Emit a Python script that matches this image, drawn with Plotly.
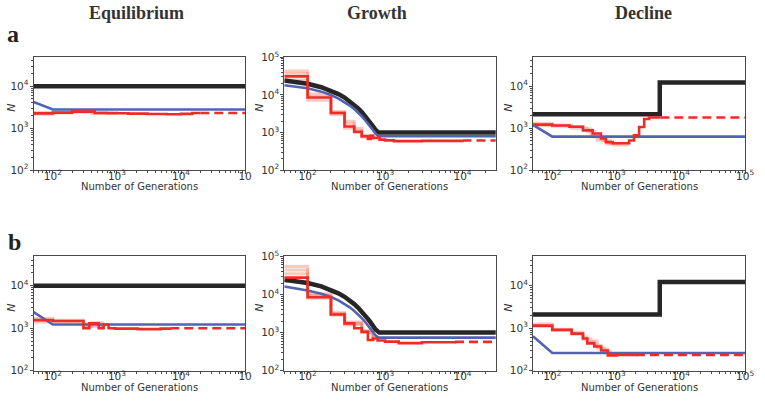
import plotly.graph_objects as go

W, H = 765, 405

# ---------------- data ----------------
col_titles = ["Equilibrium", "Growth", "Decline"]
row_labels = ["a", "b"]
x_title = "Number of Generations"
y_title = "N"

# Equilibrium, row a
eq_a_true_x = [50, 100000]
eq_a_true_y = [10000, 10000]
eq_a_blue_x = [50, 100, 100000]
eq_a_blue_y = [4200, 2800, 2800]
eq_a_red_x = [50, 100, 200, 450, 700, 1500, 3000, 6000, 10000, 15000, 20000]
eq_a_red_y = [2250, 2350, 2480, 2300, 2270, 2230, 2180, 2150, 2200, 2300, 2300]
eq_a_dash_x = [20000, 100000]
eq_a_dash_y = [2300, 2300]
eq_a_rep_x = [[50, 100, 200, 450, 1000], [50, 100, 200, 400, 1000]]
eq_a_rep_y = [[2350, 2450, 2600, 2350, 2300], [2150, 2300, 2400, 2250, 2250]]

# Equilibrium, row b
eq_b_true_x = [50, 100000]
eq_b_true_y = [10000, 10000]
eq_b_blue_x = [50, 100, 100000]
eq_b_blue_y = [2400, 1220, 1220]
eq_b_red_x = [50, 100, 300, 370, 520, 620, 740, 940, 2100, 4800, 6800]
eq_b_red_y = [1550, 1480, 1000, 1300, 1000, 1220, 1000, 980, 950, 980, 1000]
eq_b_dash_x = [6800, 100000]
eq_b_dash_y = [1000, 1000]
eq_b_rep_x = [[50, 100, 300, 400, 600], [50, 100, 250, 350, 600]]
eq_b_rep_y = [[1700, 1550, 1100, 1350, 1050], [1400, 1400, 1250, 1100, 1000]]

# Growth, row a
gr_a_true_x = [50, 100, 150, 200, 250, 300, 350, 400, 450, 500, 550, 600, 650, 700, 750, 820, 27000]
gr_a_true_y = [24000, 19800, 16000, 13000, 10500, 8500, 6800, 5500, 4400, 3500, 2800, 2250, 1800, 1450, 1200, 1000, 1000]
gr_a_blue_x = [50, 100, 150, 200, 250, 300, 350, 400, 450, 500, 550, 600, 650, 700, 750, 820, 27000]
gr_a_blue_y = [18000, 15000, 12200, 9900, 8000, 6500, 5200, 4200, 3400, 2700, 2150, 1750, 1400, 1150, 950, 800, 800]
gr_a_red_x = [50, 100, 200, 300, 400, 500, 600, 650, 700, 850, 1000, 1300, 3000, 10000]
gr_a_red_y = [31000, 8500, 3300, 1450, 1050, 800, 680, 820, 720, 650, 620, 590, 600, 615]
gr_a_dash_x = [10000, 27000]
gr_a_dash_y = [615, 615]
gr_a_rep_x = [[50, 100, 200, 300, 400, 500, 700], [50, 100, 200, 300, 400, 500, 700], [50, 100, 200, 300, 400, 500, 700]]
gr_a_rep_y = [[43000, 10500, 3400, 2000, 1300, 850, 700], [37000, 7200, 3000, 1700, 1150, 800, 680], [25000, 9000, 3600, 1300, 1000, 750, 650]]

# Growth, row b
gr_b_true_x = [50, 100, 150, 200, 250, 300, 350, 400, 450, 500, 550, 600, 650, 700, 750, 840, 27000]
gr_b_true_y = [24500, 20000, 16300, 13200, 10700, 8700, 7000, 5600, 4500, 3600, 2900, 2300, 1850, 1500, 1220, 1000, 1000]
gr_b_blue_x = [50, 100, 150, 200, 250, 300, 350, 400, 450, 500, 550, 600, 650, 700, 750, 820, 27000]
gr_b_blue_y = [16200, 12800, 10500, 8600, 7000, 5700, 4600, 3700, 3000, 2400, 1950, 1550, 1250, 1000, 850, 740, 740]
gr_b_red_x = [50, 100, 200, 300, 400, 500, 600, 700, 800, 1000, 1500, 3000, 8000]
gr_b_red_y = [27800, 8500, 3000, 1750, 1300, 1050, 640, 700, 620, 580, 530, 560, 570]
gr_b_dash_x = [8000, 27000]
gr_b_dash_y = [570, 570]
gr_b_rep_x = [[50, 100, 200, 300, 500, 700], [50, 100, 200, 300, 500, 700], [50, 100, 200, 300, 500, 700], [50, 100, 200, 300, 500, 700]]
gr_b_rep_y = [[54000, 10500, 3300, 1900, 1100, 700], [44000, 8000, 2900, 1600, 1000, 650], [35000, 9500, 3100, 1800, 1000, 680], [22000, 9000, 3200, 1700, 1100, 660]]

# Decline, row a
de_a_true_x = [50, 4700, 100000]
de_a_true_y = [2150, 12200, 12200]
de_a_blue_x = [50, 100, 100000]
de_a_blue_y = [1200, 630, 630]
de_a_red_x = [50, 100, 185, 300, 425, 570, 680, 870, 1570, 1870, 2240, 2690, 3200, 4800]
de_a_red_y = [1220, 1160, 1080, 890, 750, 570, 465, 440, 510, 680, 1070, 1660, 1800, 1800]
de_a_dash_x = [4800, 100000]
de_a_dash_y = [1800, 1800]
de_a_rep_x = [[50, 100, 200, 300, 400, 500, 700, 900, 1500], [50, 100, 200, 350, 450, 600, 800, 1200]]
de_a_rep_y = [[1300, 1200, 1100, 960, 700, 520, 420, 400, 480], [1150, 1120, 1000, 820, 620, 500, 440, 430]]

# Decline, row b
de_b_true_x = [50, 4700, 100000]
de_b_true_y = [2100, 12200, 12200]
de_b_blue_x = [50, 100, 100000]
de_b_blue_y = [650, 262, 262]
de_b_red_x = [50, 100, 200, 300, 350, 450, 575, 730, 1000, 2000]
de_b_red_y = [1150, 915, 745, 575, 440, 370, 300, 230, 235, 240]
de_b_dash_x = [2000, 100000]
de_b_dash_y = [235, 235]
de_b_rep_x = [[50, 100, 200, 300, 350, 450, 575, 730], [50, 100, 200, 300, 400, 500, 650, 800]]
de_b_rep_y = [[1250, 950, 800, 620, 480, 400, 320, 240], [1100, 900, 720, 560, 500, 340, 280, 225]]

panels = [
    (eq_a_true_x, eq_a_true_y, eq_a_blue_x, eq_a_blue_y, eq_a_red_x, eq_a_red_y, eq_a_dash_x, eq_a_dash_y, eq_a_rep_x, eq_a_rep_y),
    (gr_a_true_x, gr_a_true_y, gr_a_blue_x, gr_a_blue_y, gr_a_red_x, gr_a_red_y, gr_a_dash_x, gr_a_dash_y, gr_a_rep_x, gr_a_rep_y),
    (de_a_true_x, de_a_true_y, de_a_blue_x, de_a_blue_y, de_a_red_x, de_a_red_y, de_a_dash_x, de_a_dash_y, de_a_rep_x, de_a_rep_y),
    (eq_b_true_x, eq_b_true_y, eq_b_blue_x, eq_b_blue_y, eq_b_red_x, eq_b_red_y, eq_b_dash_x, eq_b_dash_y, eq_b_rep_x, eq_b_rep_y),
    (gr_b_true_x, gr_b_true_y, gr_b_blue_x, gr_b_blue_y, gr_b_red_x, gr_b_red_y, gr_b_dash_x, gr_b_dash_y, gr_b_rep_x, gr_b_rep_y),
    (de_b_true_x, de_b_true_y, de_b_blue_x, de_b_blue_y, de_b_red_x, de_b_red_y, de_b_dash_x, de_b_dash_y, de_b_rep_x, de_b_rep_y),
]
true_shapes = ["linear", "linear", "hv", "linear", "linear", "hv"]

x_tick_vals = [[100, 1000, 10000, 100000], [100, 1000, 10000], [100, 1000, 10000, 100000]]
x_tick_text = [["10<sup>2</sup>", "10<sup>3</sup>", "10<sup>4</sup>", "10"],
               ["10<sup>2</sup>", "10<sup>3</sup>", "10<sup>4</sup>"],
               ["10<sup>2</sup>", "10<sup>3</sup>", "10<sup>4</sup>", "10<sup>5</sup>"]]
y_tick_vals = [[100, 1000, 10000], [100, 1000, 10000, 100000], [100, 1000, 10000]]
y_tick_text = [["10<sup>2</sup>", "10<sup>3</sup>", "10<sup>4</sup>"],
               ["10<sup>2</sup>", "10<sup>3</sup>", "10<sup>4</sup>", "10<sup>5</sup>"],
               ["10<sup>2</sup>", "10<sup>3</sup>", "10<sup>4</sup>"]]

# ---------------- style / layout ----------------
C_TRUE = "#262626"
C_BLUE = "#5164B3"
C_RED = "#EE2B27"
C_REP = "rgba(244,120,100,0.40)"
AX = "#4a4a4a"

col_px = [(34, 248), (287.7, 501.7), (539.3, 754)]
row_px = [(51, 168), (257.3, 375.7)]
x_ranges = [[1.699, 5.0], [1.699, 4.43], [1.699, 5.0]]
y_ranges = [[2.0, 4.69], [2.0, 5.0], [2.0, 4.69]]

minor_vals = [m * 10 ** d for d in range(1, 6) for m in range(2, 10)]

fig = go.Figure()
layout = dict(width=W, height=H, margin=dict(l=0, r=0, t=0, b=0),
              paper_bgcolor="white", plot_bgcolor="white", showlegend=False)

for i, p in enumerate(panels):
    r, c = divmod(i, 3)
    ax = i + 1
    xa = "x" if ax == 1 else f"x{ax}"
    ya = "y" if ax == 1 else f"y{ax}"
    tx, ty, bx, by, rx, ry, dx, dy, repx, repy = p
    for qx, qy in zip(repx, repy):
        fig.add_trace(go.Scatter(x=qx, y=qy, mode="lines", line=dict(color=C_REP, width=3, shape="hv"),
                                 xaxis=xa, yaxis=ya, hoverinfo="skip"))
    fig.add_trace(go.Scatter(x=tx, y=ty, mode="lines", line=dict(color=C_TRUE, width=4.5, shape=true_shapes[i]),
                             xaxis=xa, yaxis=ya))
    fig.add_trace(go.Scatter(x=bx, y=by, mode="lines", line=dict(color=C_BLUE, width=2.6),
                             xaxis=xa, yaxis=ya))
    fig.add_trace(go.Scatter(x=rx, y=ry, mode="lines", line=dict(color=C_RED, width=2.6, shape="hv"),
                             xaxis=xa, yaxis=ya))
    fig.add_trace(go.Scatter(x=dx, y=dy, mode="lines", line=dict(color=C_RED, width=2.6, dash="9px,5px"),
                             xaxis=xa, yaxis=ya))

    x0, x1 = col_px[c]
    y0, y1 = row_px[r]
    common = dict(type="log", showline=True, mirror=True, linecolor=AX, linewidth=1,
                  ticks="outside", ticklen=3, tickwidth=1, tickcolor=AX, showgrid=False, zeroline=False,
                  tickfont=dict(family="DejaVu Sans", size=10.5, color="#333"),
                  minor=dict(tickmode="array", tickvals=minor_vals, ticks="outside", ticklen=2,
                             tickwidth=1, tickcolor=AX, showgrid=False))
    layout[f"xaxis{ax}"] = dict(common, domain=[x0 / W, x1 / W], range=x_ranges[c], anchor=ya,
                                tickmode="array", tickvals=x_tick_vals[c], ticktext=x_tick_text[c],
                                ticklabelstandoff=-7)
    layout[f"yaxis{ax}"] = dict(common, domain=[1 - y1 / H, 1 - y0 / H], range=y_ranges[c], anchor=xa,
                                tickmode="array", tickvals=y_tick_vals[c], ticktext=y_tick_text[c],
                                ticklabelstandoff=-1)

ann = []
title_x = [138, 381, 651]
for c, t in enumerate(col_titles):
    ann.append(dict(text=f"<b>{t}</b>", x=title_x[c] / W, y=1 - 5.5 / H, xref="paper", yref="paper",
                    showarrow=False, xanchor="center", yanchor="middle",
                    font=dict(family="Liberation Serif", size=18, color="#333")))
row_lab_pos = [(13, 27), (15, 242)]
for r, t in enumerate(row_labels):
    ann.append(dict(text=f"<b>{t}</b>", x=row_lab_pos[r][0] / W, y=1 - row_lab_pos[r][1] / H,
                    xref="paper", yref="paper", showarrow=False, xanchor="center", yanchor="middle",
                    font=dict(family="Liberation Serif", size=24, color="#222")))
xt_x = [141, 394, 647]
xt_y = [185, 393]
ylab_x = [12, 263, 515]
for r in range(2):
    for c in range(3):
        ann.append(dict(text=x_title, x=xt_x[c] / W, y=1 - xt_y[r] / H, xref="paper", yref="paper",
                        showarrow=False, xanchor="center", yanchor="middle",
                        font=dict(family="DejaVu Sans", size=10, color="#333")))
        yc = (row_px[r][0] + row_px[r][1]) / 2 - 6
        ann.append(dict(text=f"<i>{y_title}</i>", x=ylab_x[c] / W, y=1 - yc / H, xref="paper", yref="paper",
                        showarrow=False, xanchor="center", yanchor="middle", textangle=-90,
                        font=dict(family="DejaVu Sans", size=11, color="#333")))
layout["annotations"] = ann
fig.update_layout(**layout)
fig.write_html("out.html", config={"displayModeBar": False},
               post_script="document.body.style.margin='0';document.body.style.overflow='hidden';")
